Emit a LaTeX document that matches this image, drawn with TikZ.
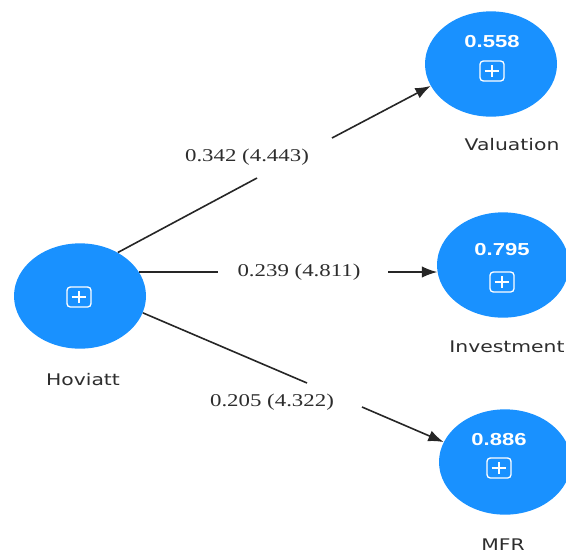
\documentclass[tikz,border=0pt]{standalone}
\usepackage{fontspec}
\newfontfamily\pathfont[FakeStretch=1.27]{Liberation Serif}
\newfontfamily\namefont[FakeStretch=1.27]{DejaVu Sans}
\newfontfamily\rsqfont[FakeStretch=1.27]{Liberation Sans}
\usetikzlibrary{arrows.meta,shapes.geometric}
\definecolor{plsblue}{RGB}{25,145,255}
\definecolor{txtgray}{RGB}{45,45,45}

\tikzset{
  construct/.style={ellipse, fill=plsblue, minimum width=99pt, minimum height=79pt, inner sep=0pt},
  rsq/.style={font=\rsqfont\bfseries\fontsize{13}{15}\selectfont, text=white},
  plusbox/.style={draw=white, line width=1pt, rounded corners=2.5pt, minimum width=18pt, minimum height=15pt, inner sep=0pt,
    path picture={\draw[white, line width=1pt]
      ([xshift=-5.5pt]path picture bounding box.center) -- ([xshift=5.5pt]path picture bounding box.center)
      ([yshift=-4.5pt]path picture bounding box.center) -- ([yshift=4.5pt]path picture bounding box.center);}},
  varname/.style={font=\namefont\fontsize{12}{14}\selectfont, text=txtgray},
  coef/.style={font=\pathfont\fontsize{13.5}{16}\selectfont, text=txtgray},
  pathline/.style={draw=black!85, line width=1.2pt}
}

\begin{document}
\begin{tikzpicture}[x=0.75pt,y=-0.75pt,>={Latex[length=11.5pt,width=8.5pt]}]
\useasboundingbox (0,0) rectangle (566,554);

% constructs
\node[construct] at (80,296) (hov) {};
\node[construct] at (491,64) (val) {};
\node[construct] at (503,265) (inv) {};
\node[construct] at (505,462) (mfr) {};

% r-squares and icons
\node[rsq] at (492,42) (valr2) {0.558};
\node[rsq] at (502,250) (invr2) {0.795};
\node[rsq] at (499,440) (mfrr2) {0.886};
\node[plusbox] at (79,297) (hovbox) {};
\node[plusbox] at (492,71) (valbox) {};
\node[plusbox] at (502,282) (invbox) {};
\node[plusbox] at (499,468) (mfrbox) {};

% names
\node[varname] at (83,380) (hovname) {Hoviatt};
\node[varname] at (512,145) (valname) {Valuation};
\node[varname] at (507,347) (invname) {Investment};
\node[varname] at (503,545) (mfrname) {MFR};

% path coefficients
\node[coef] at (247,157) (c1) {0.342 (4.443)};
\node[coef] at (299,272) (c2) {0.239 (4.811)};
\node[coef] at (272,402) (c3) {0.205 (4.322)};

\coordinate (g1a) at (257,178);
\coordinate (g1b) at (332,138);
\coordinate (g2a) at (218,272);
\coordinate (g2b) at (388,272);
\coordinate (g3a) at (307,383);
\coordinate (g3b) at (362,407);

\draw[pathline] (hov.49) -- (g1a);
\draw[pathline,->] (g1b) -- (val.200);
\draw[pathline] (hov.22 |- g2a) -- (g2a);
\draw[pathline,->] (g2b) -- (inv.186 |- g2b);
\draw[pathline] (hov.-15) -- (g3a);
\draw[pathline,->] (g3b) -- (mfr.162);
\end{tikzpicture}
\end{document}
